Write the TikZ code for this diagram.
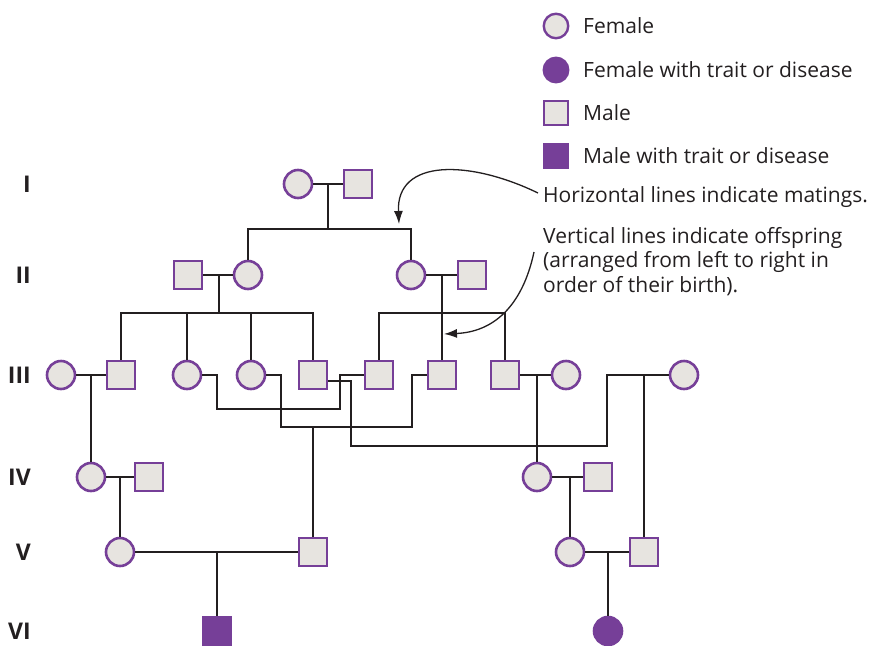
\documentclass[tikz,border=0pt]{standalone}
\usepackage{fontspec}
\setmainfont{Open Sans}
\usetikzlibrary{arrows.meta}
\definecolor{purp}{HTML}{763F98}
\definecolor{pfill}{HTML}{E7E4E0}
\definecolor{ink}{HTML}{231F20}
\begin{document}
\begin{tikzpicture}[x=1pt,y=-1pt,
 fem/.style={circle,draw=purp,fill=pfill,line width=2.6pt,minimum size=28pt,inner sep=0pt},
 mal/.style={rectangle,draw=purp,fill=pfill,line width=2.6pt,minimum size=28pt,inner sep=0pt},
 femA/.style={fem,fill=purp},
 malA/.style={mal,fill=purp},
 lfem/.style={fem,minimum size=24.5pt,line width=2.4pt},
 lmal/.style={mal,minimum size=23.5pt,line width=2.4pt},
 link/.style={draw=ink,line width=2.6pt},
 gen/.style={font=\bfseries\fontsize{23}{23}\selectfont,anchor=east,inner sep=0pt,text=ink},
 leg/.style={font=\fontsize{21}{21}\selectfont,anchor=west,inner sep=0pt,text=ink},
 pointer/.style={draw=ink,line width=1.3pt,-{Latex[length=13pt,width=9pt]}}]
\useasboundingbox (0,0) rectangle (877,645);

% legend
\node[lfem] (lg1) at (556,26) {};
\node[lfem,fill=purp] (lg2) at (556,70) {};
\node[lmal] (lg3) at (556,113) {};
\node[lmal,fill=purp] (lg4) at (556,156) {};
\node[leg] (lt1) at (583,26) {Female};
\node[leg] (lt2) at (583,70) {Female with trait or disease};
\node[leg] (lt3) at (583,113) {Male};
\node[leg] (lt4) at (583,156) {Male with trait or disease};

% generation labels
\node[gen] (gI) at (31,184) {I};
\node[gen] (gII) at (31,275) {II};
\node[gen] (gIII) at (31,375) {III};
\node[gen] (gIV) at (31,477) {IV};
\node[gen] (gV) at (31,552) {V};
\node[gen] (gVI) at (31,631) {VI};

% individuals
\node[fem] (I1) at (298,184) {};
\node[mal] (I2) at (358,184) {};
\node[mal] (II1) at (188,275) {};
\node[fem] (II2) at (248,275) {};
\node[fem] (II3) at (411,275) {};
\node[mal] (II4) at (472,275) {};
\node[fem] (III1) at (61,375) {};
\node[mal] (III2) at (121,375) {};
\node[fem] (III3) at (187,375) {};
\node[fem] (III4) at (251,375) {};
\node[mal] (III5) at (313,375) {};
\node[mal] (III6) at (379,375) {};
\node[mal] (III7) at (442,375) {};
\node[mal] (III8) at (505,375) {};
\node[fem] (III9) at (566,375) {};
\node[fem] (III10) at (684,375) {};
\node[fem] (IV1) at (91,477) {};
\node[mal] (IV2) at (149,477) {};
\node[fem] (IV3) at (537,477) {};
\node[mal] (IV4) at (598,477) {};
\node[fem] (V1) at (120,552) {};
\node[mal] (V2) at (313,552) {};
\node[fem] (V3) at (570,552) {};
\node[mal] (V4) at (644,552) {};
\node[malA] (VI1) at (217,631) {};
\node[femA] (VI2) at (608,631) {};

% junction coordinates
\coordinate (mI) at (328,184);
\coordinate (sI) at (328,229);
\coordinate (mIIa) at (219,275);
\coordinate (sIIa) at (219,313);
\coordinate (mIIb) at (442,275);
\coordinate (sIIb) at (442,313);
\coordinate (mIIIa) at (91,375);
\coordinate (cA1) at (217,409);
\coordinate (cA2) at (340,375);
\coordinate (cB1) at (281,427);
\coordinate (cB2) at (412,375);
\coordinate (mB) at (313,427);
\coordinate (cC1) at (351,446);
\coordinate (cC2) at (607,375);
\coordinate (mC) at (644,375);
\coordinate (mD) at (537,375);
\coordinate (mIVa) at (120,477);
\coordinate (mIVb) at (570,477);
\coordinate (mVa) at (217,552);
\coordinate (mVb) at (608,552);

% generation I
\draw[link] (I1.east) -- (I2.west);
\draw[link] (mI) -- (sI);
\draw[link] (II2.north) |- (sI) -| (II3.north);
% generation II
\draw[link] (II1.east) -- (II2.west);
\draw[link] (mIIa) -- (sIIa);
\draw[link] (III2.north) |- (sIIa) -| (III5.north);
\draw[link] (III3.north) -- (III3.north |- sIIa);
\draw[link] (III4.north) -- (III4.north |- sIIa);
\draw[link] (II3.east) -- (II4.west);
\draw[link] (mIIb) -- (III7.north);
\draw[link] (III6.north) |- (sIIb) -| (III8.north);
% generation III
\draw[link] (III1.east) -- (III2.west);
\draw[link] (mIIIa) -- (IV1.north);
\draw[link] (III3.east) -| (cA1) -| (cA2) -- (III6.west);
\draw[link] (III4.east) -| (cB1) -| (cB2) -- (III7.west);
\draw[link] (mB) -- (V2.north);
\draw[link] ([yshift=-6pt]III5.east) -| (cC1) -| (cC2) -- (III10.west);
\draw[link] (mC) -- (V4.north);
\draw[link] (III8.east) -- (III9.west);
\draw[link] (mD) -- (IV3.north);
% generation IV
\draw[link] (IV1.east) -- (IV2.west);
\draw[link] (mIVa) -- (V1.north);
\draw[link] (IV3.east) -- (IV4.west);
\draw[link] (mIVb) -- (V3.north);
% generation V
\draw[link] (V1.east) -- (V2.west);
\draw[link] (mVa) -- (VI1.north);
\draw[link] (V3.east) -- (V4.west);
\draw[link] (mVb) -- (VI2.north);

% notes
\node[leg] (n1) at (543,197) {Horizontal lines indicate matings.};
\node[leg] (n2) at (543,238) {Vertical lines indicate offspring};
\node[leg] (n3) at (543,262) {(arranged from left to right in};
\node[leg] (n4) at (543,286) {order of their birth).};
\coordinate (a1s) at (538,193);
\coordinate (a1e) at (399,224);
\coordinate (a2s) at (534,252);
\coordinate (a2e) at (444,334);
\draw[pointer] (a1s) .. controls (470,160) and (396,158) .. (a1e);
\draw[pointer] (a2s) .. controls (522,308) and (492,332) .. (a2e);
\end{tikzpicture}
\end{document}
